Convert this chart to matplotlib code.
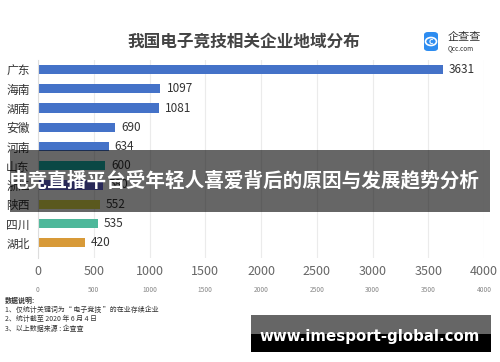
import numpy as np
import matplotlib
matplotlib.use("Agg")
import matplotlib.pyplot as plt
from matplotlib.patches import FancyBboxPatch, Rectangle, Circle

plt.rcParams['font.family'] = ['Noto Sans CJK SC', 'DejaVu Sans']

# data
provinces = ['广东', '海南', '湖南', '安徽', '河南', '山东', '浙江', '陕西', '四川', '湖北']
counts = [3631, 1097, 1081, 690, 634, 600, 580, 552, 535, 420]
bar_colors = ['#4472c8', '#4472c8', '#4472c8', '#4472c8', '#4472c8',
              '#1ab4ae', '#6464dc', '#e1dc4b', '#4db89a', '#d89a38']
xticks = [0, 500, 1000, 1500, 2000, 2500, 3000, 3500, 4000]
title = '我国电子竞技相关企业地域分布'
notes = ['数据说明:',
         '1、仅统计关键词为“ 电子竞技 ”的在业存续企业',
         '2、统计截至 2020 年 6 月 4 日',
         '3、以上数据来源 : 企查查']
banner = '电竞直播平台受年轻人喜爱背后的原因与发展趋势分析'
watermark = 'www.imesport-global.com'

W, H = 500, 362
fig = plt.figure(figsize=(W / 100, H / 100), dpi=100)


def fx(px):
    return px / W


def fy(py):
    return 1 - py / H


# main axes: x from 38px to 484px, y from 60px to 258px
ax = fig.add_axes([fx(38), fy(258), fx(484 - 38), (258 - 60) / H])
y = np.arange(len(provinces))
ax.barh(y, counts, height=0.48, color=bar_colors, zorder=2)
ax.set_xlim(0, 4000)
ax.set_ylim(9.8, -0.5)
ax.set_xticks(xticks)
ax.set_xticklabels([str(t) for t in xticks], fontsize=9, color='#666666')
ax.tick_params(axis='x', length=0, pad=5)
ax.set_yticks(y)
ax.set_yticklabels(provinces, fontsize=8.5, color='#333333')
ax.tick_params(axis='y', length=0, pad=6)
ax.grid(axis='x', color='#ebebeb', linewidth=0.8, zorder=0)
for s in ['top', 'right', 'bottom']:
    ax.spines[s].set_visible(False)
ax.spines['left'].set_color('#dddddd')

for yi, v in zip(y, counts):
    ax.text(v + 55, yi, str(v), va='center', ha='left', fontsize=8.5, color='#333333')

# small repeated tick row
sec = ax.secondary_xaxis(-0.14)
sec.set_xticks(xticks)
sec.set_xticklabels([str(t) for t in xticks], fontsize=4.8, color='#888888')
sec.tick_params(length=0, pad=0)
sec.spines['bottom'].set_visible(False)

# title
fig.text(fx(244), fy(42), title, ha='center', va='center', fontsize=12,
         fontweight='bold', color='#444444')

# logo
logo = FancyBboxPatch((fx(424), fy(51)), fx(14), (51 - 32) / H,
                      boxstyle='round,pad=0,rounding_size=0.008',
                      transform=fig.transFigure, facecolor='#2d8cf0', edgecolor='none')
fig.patches.append(logo)
fig.patches.append(Circle((fx(431), fy(41.5)), 0.011, transform=fig.transFigure,
                          facecolor='none', edgecolor='white', linewidth=1.2))
fig.text(fx(431), fy(41.5), 'C', ha='center', va='center', fontsize=5,
         fontweight='bold', color='white')
fig.text(fx(448), fy(36.5), '企查查', ha='left', va='center', fontsize=8, color='#333333')
fig.text(fx(448), fy(48), 'Qcc.com', ha='left', va='center', fontsize=4.6, color='#333333')

# notes
for i, line in enumerate(notes):
    fig.text(fx(5), fy(300 + i * 9.5), line, ha='left', va='center', fontsize=5,
             color='#333333', fontweight='bold' if i == 0 else 'normal')

# banner overlay
fig.patches.append(Rectangle((fx(10), fy(212)), fx(480), (212 - 150) / H,
                             transform=fig.transFigure, facecolor='black',
                             alpha=0.6, edgecolor='none', zorder=5))
fig.text(fx(9), fy(181), banner, ha='left', va='center', fontsize=14.1,
         fontweight='bold', color='white', zorder=6)

# watermark
fig.patches.append(Rectangle((fx(251), fy(334)), fx(240), (334 - 315) / H,
                             transform=fig.transFigure, facecolor='#666666',
                             edgecolor='none', zorder=5))
fig.patches.append(Rectangle((fx(251), fy(352)), fx(240), (352 - 334) / H,
                             transform=fig.transFigure, facecolor='black',
                             edgecolor='none', zorder=5))
fig.text(fx(370), fy(336), watermark, ha='center', va='center', fontsize=10.8,
         fontweight='bold', color='white', zorder=6, family='DejaVu Sans')

fig.savefig('out.png', dpi=100)
